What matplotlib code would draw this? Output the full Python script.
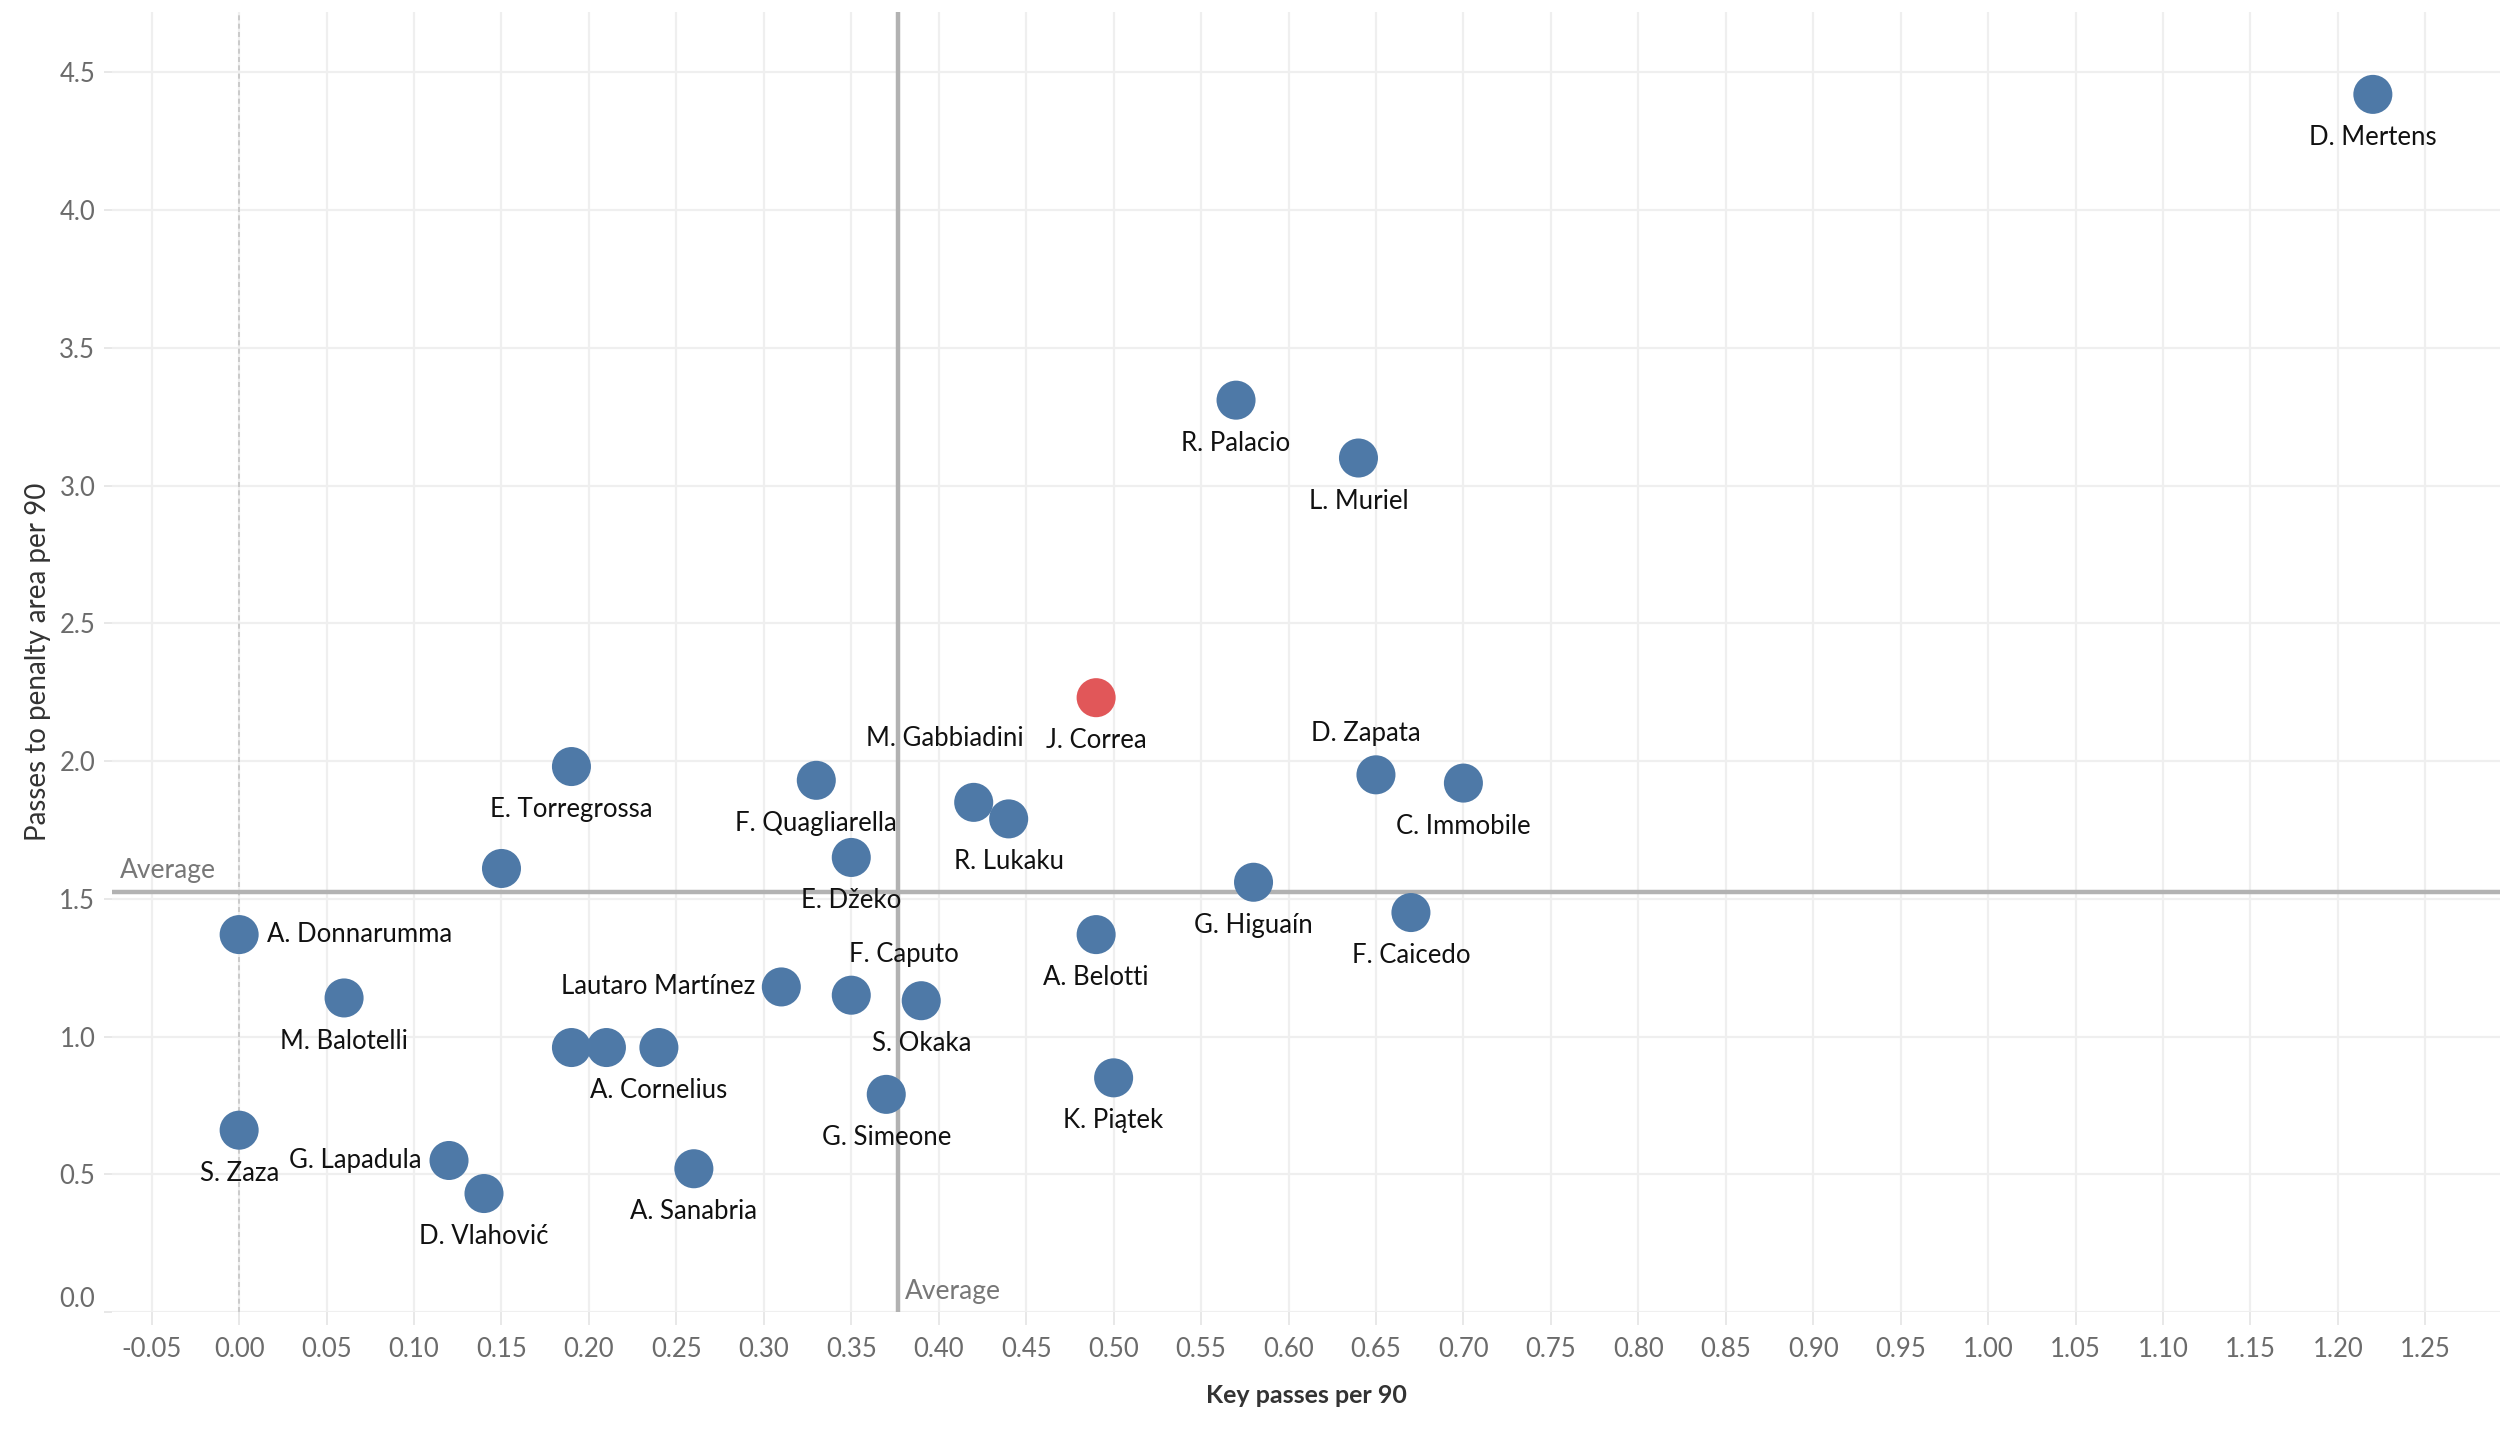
import matplotlib

matplotlib.use("Agg")
import matplotlib.pyplot as plt
import matplotlib.transforms as mtransforms
import numpy as np

plt.rcParams["font.family"] = ["Lato", "DejaVu Sans"]

# Serie A forwards: key passes vs passes into the penalty area (per 90)
players = [
    "D. Mertens", "R. Palacio", "L. Muriel", "J. Correa", "D. Zapata",
    "C. Immobile", "E. Torregrossa", "F. Quagliarella", "M. Gabbiadini",
    "R. Lukaku", "E. Džeko", "", "G. Higuaín", "F. Caicedo",
    "A. Donnarumma", "A. Belotti", "Lautaro Martínez", "F. Caputo",
    "S. Okaka", "M. Balotelli", "", "", "A. Cornelius", "G. Simeone",
    "K. Piątek", "S. Zaza", "G. Lapadula", "D. Vlahović", "A. Sanabria",
]
key_passes = [
    1.22, 0.57, 0.64, 0.49, 0.65,
    0.70, 0.19, 0.33, 0.42,
    0.44, 0.35, 0.15, 0.58, 0.67,
    0.00, 0.49, 0.31, 0.35,
    0.39, 0.06, 0.19, 0.21, 0.24, 0.37,
    0.50, 0.00, 0.12, 0.14, 0.26,
]
box_passes = [
    4.42, 3.31, 3.10, 2.23, 1.95,
    1.92, 1.98, 1.93, 1.85,
    1.79, 1.65, 1.61, 1.56, 1.45,
    1.37, 1.37, 1.18, 1.15,
    1.13, 1.14, 0.96, 0.96, 0.96, 0.79,
    0.85, 0.66, 0.55, 0.43, 0.52,
]
highlight = "J. Correa"
avg_key_passes = 0.3765
avg_box_passes = 1.523

x_ticks = np.round(np.arange(-0.05, 1.2501, 0.05), 2)
y_ticks = np.round(np.arange(0.0, 4.501, 0.5), 1)

BLUE = "#4e79a7"
RED = "#e15759"
GRID = "#efefef"
AVG = "#b2b2b2"

# label placement: (dx, dy) in points from the mark, horizontal alignment
BELOW = (0, -31, "center")
label_pos = {
    "D. Zapata": (-7, 30, "center"),
    "M. Gabbiadini": (-21, 46, "center"),
    "A. Donnarumma": (20, 0, "left"),
    "Lautaro Martínez": (-19, 0, "right"),
    "F. Caputo": (38, 29, "center"),
    "G. Lapadula": (-20, 0, "right"),
}

fig = plt.figure(figsize=(25, 14.32), dpi=100)
ax = fig.add_axes([0.0448, 0.0838, 0.9552, 0.908])

ax.set_xlim(-0.0727, 1.2927)
ax.set_ylim(0, 4.72)
ax.set_xticks(x_ticks)
ax.set_xticklabels([f"{t:.2f}" for t in x_ticks])
ax.set_yticks(y_ticks)
ax.set_yticklabels([f"{t:.1f}" for t in y_ticks])
ax.grid(True, color=GRID, linewidth=1.6, zorder=0)
ax.set_axisbelow(True)
for side in ax.spines.values():
    side.set_visible(False)
ax.tick_params(axis="both", colors="#e6e6e6", length=9, width=1.3,
               labelcolor="#6b6b6b", labelsize=18.5)
ax.tick_params(axis="x", pad=9)
ax.tick_params(axis="y", length=6, pad=6)

# the bottom y label sits a little above its gridline
zero_label = ax.get_yticklabels()[0]
zero_label.set_transform(zero_label.get_transform() + mtransforms.ScaledTranslation(
    0, 0.15, fig.dpi_scale_trans))

# zero line and averages
ax.axvline(0, color="#c4c4c4", linewidth=1.2, linestyle=(0, (3, 2)), zorder=1)
ax.axvline(avg_key_passes, color=AVG, linewidth=3.2, zorder=2)
ax.axhline(avg_box_passes, color=AVG, linewidth=3.2, zorder=2)
ax.text(-0.068, avg_box_passes + 0.035, "Average", color="#777777",
        fontsize=19, ha="left", va="bottom")
ax.text(avg_key_passes + 0.004, 0.03, "Average", color="#777777",
        fontsize=19, ha="left", va="bottom")

colors = [RED if p == highlight else BLUE for p in players]
ax.scatter(key_passes, box_passes, s=790, c=colors, linewidths=0, zorder=3)

for name, x, y in zip(players, key_passes, box_passes):
    if not name:
        continue
    dx, dy, ha = label_pos.get(name, BELOW)
    ax.annotate(name, (x, y), xytext=(dx, dy), textcoords="offset points",
                ha=ha, va="center", fontsize=18.5, color="#111111", zorder=4)

ax.set_xlabel("Key passes per 90", fontsize=18, fontweight="bold",
              color="#333333", labelpad=16)
ax.set_ylabel("Passes to penalty area per 90", fontsize=20,
              color="#333333", labelpad=6)

fig.savefig("out.png", dpi=100)
